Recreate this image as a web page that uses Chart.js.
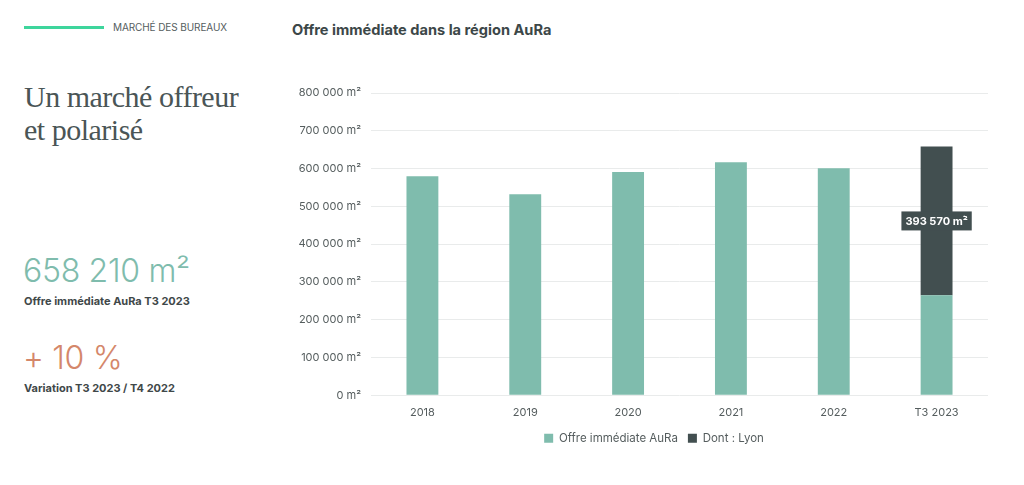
<!DOCTYPE html>
<html><head><meta charset="utf-8">
<script src="https://cdn.jsdelivr.net/npm/chart.js@4"></script>
<style>
html,body{margin:0;padding:0;background:#fff;width:1024px;height:485px;overflow:hidden;font-family:Inter,"Noto Sans",sans-serif;}
.abs{position:absolute;white-space:nowrap;}
#line{left:24px;top:26px;width:80px;height:3px;background:#3ed59c;}
#kicker{left:113px;top:21px;font-size:10px;color:#555d5e;letter-spacing:-0.1px;}
#head{left:24px;top:80px;font-family:"Liberation Serif","DejaVu Serif",serif;font-size:30px;line-height:33px;color:#4a5556;letter-spacing:-0.5px;}
#big1{left:23px;top:251px;font-size:32px;font-weight:300;color:#7fbcad;letter-spacing:-0.3px;}
#sub1{left:24px;top:294px;font-size:11px;font-weight:700;color:#3f4849;}
#big2{left:23px;top:338px;font-size:32px;font-weight:300;color:#d4876a;letter-spacing:-0.3px;}
#sub2{left:24px;top:381px;font-size:11px;font-weight:700;color:#3f4849;}
#title{left:292px;top:21px;font-size:14.6px;font-weight:700;color:#3c4748;}
#wrap{position:absolute;left:290px;top:70px;width:700px;height:388px;}
</style></head><body>
<div id="line" class="abs"></div>
<div id="kicker" class="abs">MARCHÉ DES BUREAUX</div>
<div id="head" class="abs">Un marché offreur<br>et polarisé</div>
<div id="big1" class="abs">658 210 m²</div>
<div id="sub1" class="abs">Offre immédiate AuRa T3 2023</div>
<div id="big2" class="abs">+ 10 %</div>
<div id="sub2" class="abs">Variation T3 2023 / T4 2022</div>
<div id="title" class="abs">Offre immédiate dans la région AuRa</div>
<div id="wrap"><canvas id="c"></canvas></div>
<script>
const categories = ["2018","2019","2020","2021","2022","T3 2023"];
const offreAuRa = [580000, 532000, 591000, 617000, 601000, 264640];
const dontLyon = [0, 0, 0, 0, 0, 393570];
const seriesNames = ["Offre immédiate AuRa","Dont : Lyon"];
const yTicks = [0,100000,200000,300000,400000,500000,600000,700000,800000];

function fmt(v){return String(v).replace(/\B(?=(\d{3})+(?!\d))/g,' ') + ' m²';}

const labelPlugin = {
  id:'lyonLabel',
  afterDatasetsDraw(chart){
    const ctx = chart.ctx;
    const meta = chart.getDatasetMeta(1);
    meta.data.forEach((bar,i)=>{
      const v = dontLyon[i];
      if(!v) return;
      const txt = fmt(v);
      ctx.save();
      ctx.font = '700 11px Inter, sans-serif';
      const w = ctx.measureText(txt).width + 8;
      const h = 19;
      const cx = bar.x, cy = (bar.y + bar.base)/2;
      ctx.fillStyle = '#424f50';
      ctx.fillRect(cx - w/2, cy - h/2, w, h);
      ctx.fillStyle = '#ffffff';
      ctx.textAlign='center'; ctx.textBaseline='middle';
      ctx.fillText(txt, cx, cy+0.5);
      ctx.restore();
    });
  }
};
const legendShift = {
  id:'legendShift',
  afterLayout(chart){ if(chart.legend){ chart.legend.left += 15; chart.legend.right += 15; } }
};

new Chart(document.getElementById('c'),{
  type:'bar',
  data:{labels:categories,datasets:[
    {label:seriesNames[0],data:offreAuRa,backgroundColor:'#7fbcad',barPercentage:0.31,categoryPercentage:1},
    {label:seriesNames[1],data:dontLyon,backgroundColor:'#424f50',barPercentage:0.31,categoryPercentage:1}
  ]},
  options:{
    responsive:true,maintainAspectRatio:false,animation:false,
    layout:{padding:{top:23,right:2,bottom:4,left:0}},
    plugins:{
      legend:{position:'bottom',labels:{boxWidth:9,boxHeight:9,padding:10,color:'#555d5e',font:{family:'Inter',size:11.5}}},
      tooltip:{enabled:false}
    },
    scales:{
      x:{stacked:true,grid:{display:false},border:{display:false},
         ticks:{color:'#555d5e',font:{family:'Inter',size:11},padding:3}},
      y:{stacked:true,min:0,max:800000,
         afterBuildTicks(s){s.ticks = yTicks.map(v=>({value:v}));},
         afterFit(s){s.width=81;},
         grid:{color:'#e9ebeb',drawTicks:false},border:{display:false},
         ticks:{color:'#555d5e',font:{family:'Inter',size:11},padding:10,callback:v=>fmt(v)}}
    }
  },
  plugins:[labelPlugin, legendShift]
});
</script>
</body></html>
